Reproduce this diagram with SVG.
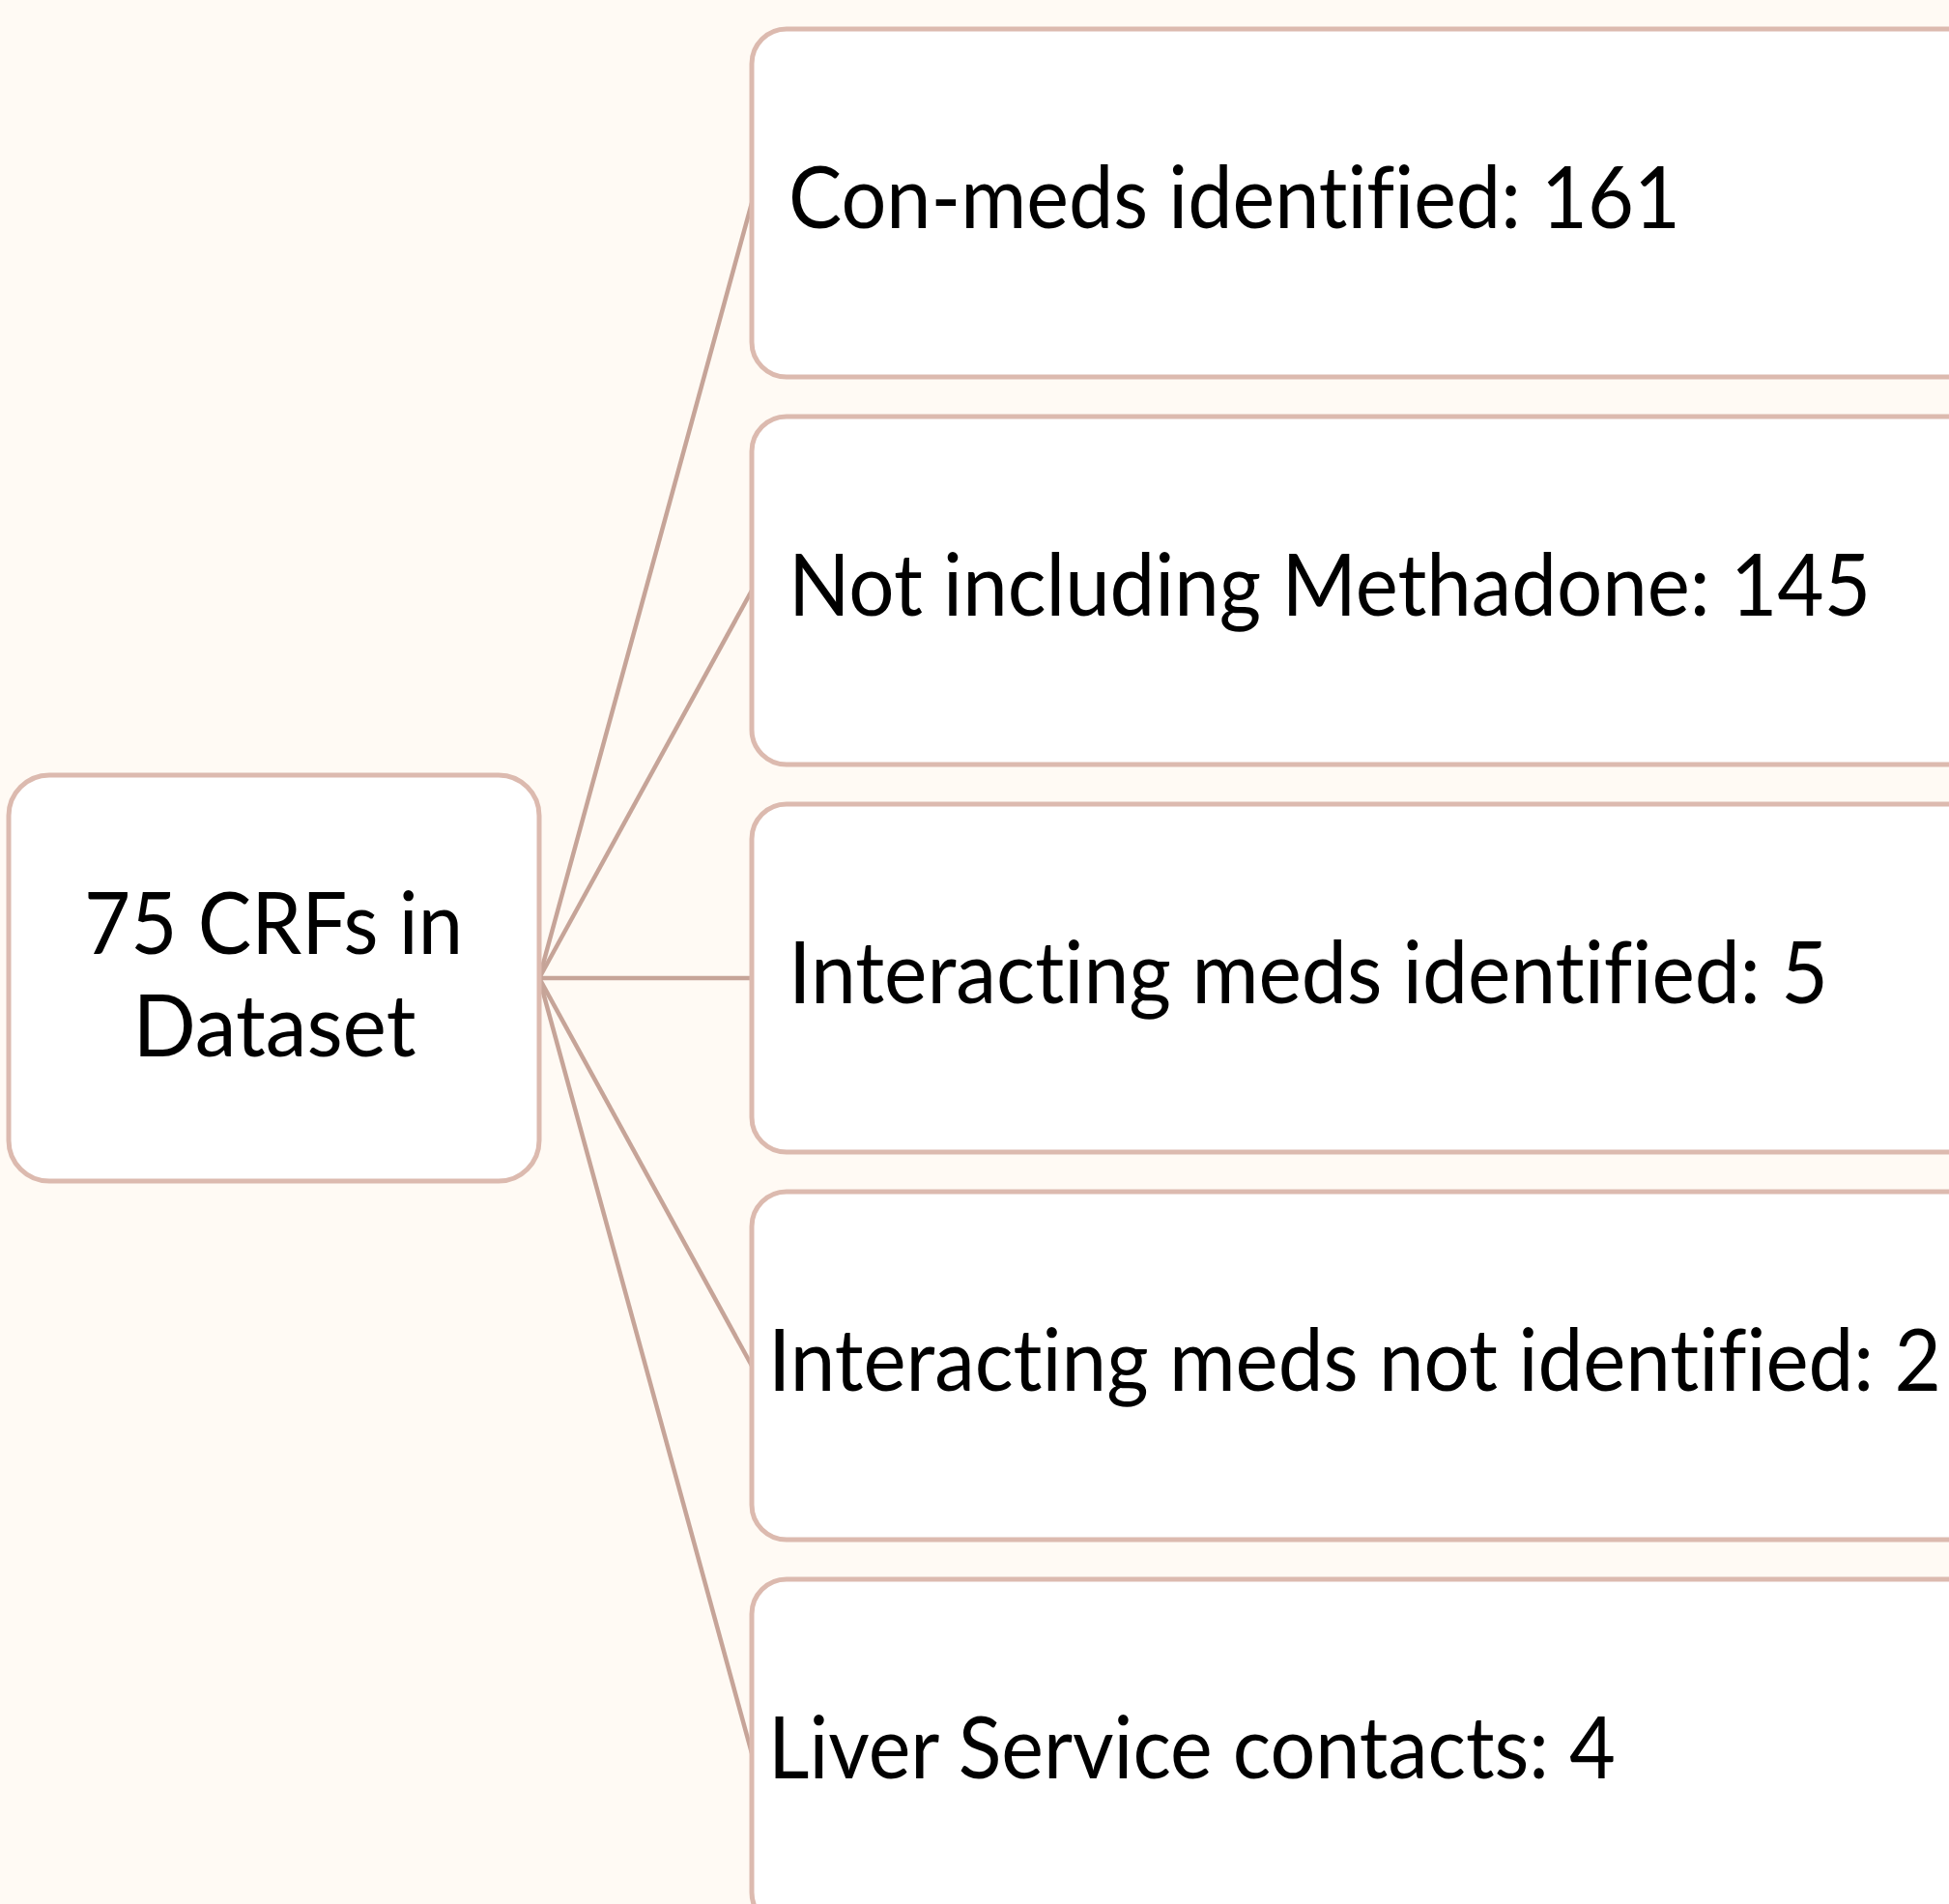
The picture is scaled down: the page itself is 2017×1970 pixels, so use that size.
<svg xmlns="http://www.w3.org/2000/svg" width="2017" height="1970" viewBox="0 0 2017 1970">
<style>
.bg{fill:#fffaf4}
.box{fill:#ffffff;stroke:#dcbaaf;stroke-width:5}
.conn{stroke:#c6a498;stroke-width:4.5;fill:none}
.t{font-family:Lato,"Open Sans","Liberation Sans",sans-serif;font-size:90px;fill:#000;font-variant-ligatures:none}
</style>
<rect class="bg" x="0" y="0" width="2017" height="1970"/>
<g id="connectors">
<line class="conn" x1="558" y1="1012" x2="778" y2="210"/>
<line class="conn" x1="558" y1="1012" x2="778" y2="611"/>
<line class="conn" x1="558" y1="1012" x2="778" y2="1012"/>
<line class="conn" x1="558" y1="1012" x2="778" y2="1413"/>
<line class="conn" x1="558" y1="1012" x2="778" y2="1814"/>
</g>
<g id="root">
<rect class="box" x="9" y="802" width="549" height="420" rx="42" ry="42"/>
<text class="t" x="283" y="987" text-anchor="middle" textLength="392" lengthAdjust="spacingAndGlyphs">75 CRFs in</text>
<text class="t" x="284" y="1093" text-anchor="middle" textLength="293" lengthAdjust="spacingAndGlyphs">Dataset</text>
</g>
<g id="n1">
<rect class="box" x="778" y="30" width="1330" height="360" rx="36" ry="36"/>
<text class="t" x="816" y="236" textLength="923" lengthAdjust="spacingAndGlyphs">Con-meds identified: 161</text>
</g>
<g id="n2">
<rect class="box" x="778" y="431" width="1330" height="360" rx="36" ry="36"/>
<text class="t" x="816" y="637" textLength="1120" lengthAdjust="spacingAndGlyphs">Not including Methadone: 145</text>
</g>
<g id="n3">
<rect class="box" x="778" y="832" width="1330" height="360" rx="36" ry="36"/>
<text class="t" x="816" y="1038" textLength="1076" lengthAdjust="spacingAndGlyphs">Interacting meds identified: 5</text>
</g>
<g id="n4">
<rect class="box" x="778" y="1233" width="1330" height="360" rx="36" ry="36"/>
<text class="t" x="795" y="1439" textLength="1214" lengthAdjust="spacingAndGlyphs">Interacting meds not identified: 2</text>
</g>
<g id="n5">
<rect class="box" x="778" y="1634" width="1330" height="360" rx="36" ry="36"/>
<text class="t" x="795" y="1840" textLength="877" lengthAdjust="spacingAndGlyphs">Liver Service contacts: 4</text>
</g>
</svg>
